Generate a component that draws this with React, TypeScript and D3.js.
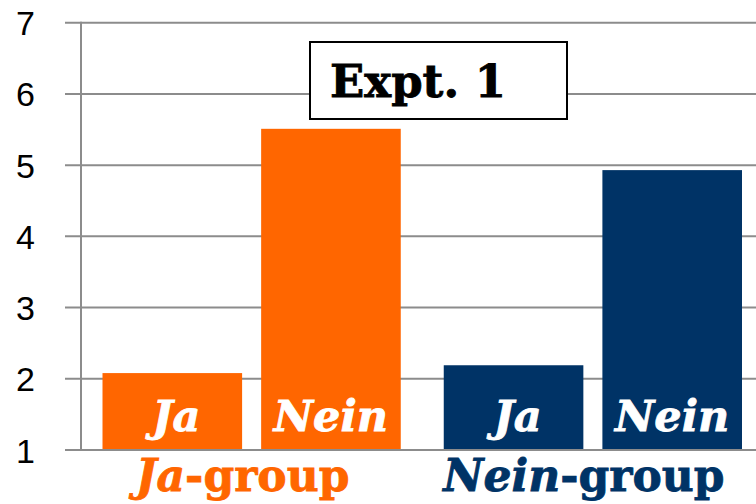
import React from "react";
import * as d3 from "d3";

const groups = ["Ja-group", "Nein-group"];
const groupItalic = ["Ja", "Nein"];
const groupRest = ["-group", "-group"];
const answers = ["Ja", "Nein"];
const jaGroupValues = [2.08, 5.51];
const neinGroupValues = [2.19, 4.93];
const groupColors = ["#FF6600", "#003366"];
const yTicks = [1, 2, 3, 4, 5, 6, 7];
const title = "Expt. 1";

const W = 756;
const H = 504;

export default function App() {
  const y = d3.scaleLinear().domain([1, 7]).range([450, 22.7]);
  const x0 = d3
    .scaleBand<string>()
    .domain(groups)
    .range([81, 763.5])
    .paddingInner(0.126)
    .paddingOuter(0.063);
  const x1 = d3
    .scaleBand<string>()
    .domain(answers)
    .range([0, x0.bandwidth()])
    .paddingInner(0.12)
    .paddingOuter(0);
  const values = [jaGroupValues, neinGroupValues];
  const serif = "'DejaVu Serif', serif";
  const grid = "#8c8c8c";

  return (
    <svg
      width={W}
      height={H}
      style={{ position: "absolute", left: 0, top: 0, background: "#fff" }}
    >
      {yTicks.map((t) => (
        <g key={t}>
          <line x1={65} x2={W} y1={y(t)} y2={y(t)} stroke={grid} strokeWidth={2} />
          <text
            x={35}
            y={y(t) + 12.5}
            textAnchor="end"
            fontFamily="'Liberation Sans', Arial, sans-serif"
            fontSize={34}
            fill="#000"
          >
            {t}
          </text>
        </g>
      ))}
      <line x1={81} x2={81} y1={y(7) - 1} y2={y(1) + 1} stroke={grid} strokeWidth={2} />
      {groups.map((g, gi) => (
        <g key={g} transform={`translate(${x0(g)},0)`}>
          {answers.map((a, ai) => {
            const v = values[gi][ai];
            const bx = x1(a)!;
            return (
              <g key={a}>
                <rect
                  x={bx}
                  y={y(v)}
                  width={x1.bandwidth()}
                  height={y(1) - y(v) - 1}
                  fill={groupColors[gi]}
                />
                <text
                  x={bx + x1.bandwidth() / 2 + (ai === 0 ? 4 : 0)}
                  y={431}
                  textAnchor="middle"
                  fontFamily={serif}
                  fontWeight="bold"
                  fontStyle="italic"
                  fontSize={43}
                  fill="#fff"
                  stroke="#fff"
                  strokeWidth={0.8}
                >
                  {a}
                </text>
              </g>
            );
          })}
          <text
            x={x0.bandwidth() / 2 - 9}
            y={491}
            textAnchor="middle"
            fontFamily={serif}
            fontWeight="bold"
            fontSize={44}
            fill={groupColors[gi]}
            stroke={groupColors[gi]}
            strokeWidth={0.8}
          >
            <tspan fontStyle="italic">{groupItalic[gi]}</tspan>
            <tspan>{groupRest[gi]}</tspan>
          </text>
        </g>
      ))}
      <rect x={310} y={42} width={257} height={77} fill="#fff" stroke="#000" strokeWidth={2} />
      <text
        x={330}
        y={97}
        fontFamily={serif}
        fontWeight="bold"
        fontSize={45}
        fill="#000"
        stroke="#000"
        strokeWidth={0.8}
      >
        {title}
      </text>
    </svg>
  );
}
